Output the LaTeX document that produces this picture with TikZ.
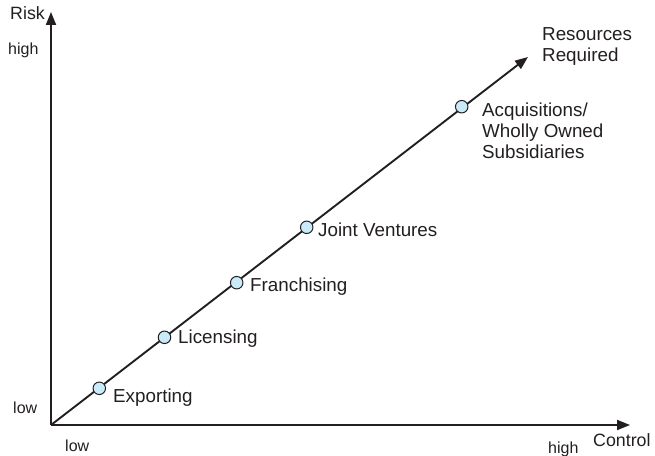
\documentclass[tikz,border=0pt]{standalone}
\usepackage{fontspec}
\setmainfont{Liberation Sans}
\usetikzlibrary{arrows.meta}
\definecolor{ink}{HTML}{231F20}
\definecolor{dotfill}{HTML}{C9EAF8}
\tikzset{
  axis/.style={draw=ink, line width=1.9pt, -{Triangle[length=13pt,width=10pt]}},
  dot/.style={circle, draw=ink, line width=1pt, fill=dotfill, minimum size=12.5pt, inner sep=0pt},
  item/.style={anchor=base west, inner sep=0pt, text=ink, font=\fontsize{18.8}{21}\selectfont, align=left},
  tick/.style={anchor=base west, inner sep=0pt, text=ink, font=\fontsize{16}{19}\selectfont},
  axlab/.style={anchor=base west, inner sep=0pt, text=ink, font=\fontsize{17.8}{20}\selectfont}
}
\begin{document}
\begin{tikzpicture}[x=1pt,y=1pt]
\useasboundingbox (0,0) rectangle (655,455);
\coordinate (O) at (51,30);
\coordinate (ytip) at (51,443);
\coordinate (xtip) at (630,30);
\coordinate (dtip) at (528,398);
\draw[axis] (O) -- (ytip);
\draw[axis] (O) -- (xtip);
\draw[axis] (O) -- (dtip);
\node[dot] (exp) at (99.3,66.7) {};
\node[dot] (lic) at (164.5,117.7) {};
\node[dot] (fra) at (236.7,172.3) {};
\node[dot] (jv) at (306.7,227.7) {};
\node[dot] (acq) at (461.7,348.3) {};
\node[item] (lexp) at (113,53) {Exporting};
\node[item] (llic) at (178,111) {Licensing};
\node[item] (lfra) at (250,163) {Franchising};
\node[item] (ljv) at (318,218) {Joint Ventures};
\node[item, anchor=north west] (lacq) at (482,352) {Acquisitions/\\Wholly Owned\\Subsidiaries};
\node[item, anchor=north west] (lres) at (542,428) {Resources\\Required};
\node[axlab] (risk) at (10,435) {Risk};
\node[tick] (yhigh) at (8,400) {high};
\node[tick] (ylow) at (13,42) {low};
\node[tick] (xlow) at (65,4) {low};
\node[tick] (xhigh) at (548,2) {high};
\node[axlab] (ctrl) at (593,9) {Control};
\end{tikzpicture}
\end{document}
